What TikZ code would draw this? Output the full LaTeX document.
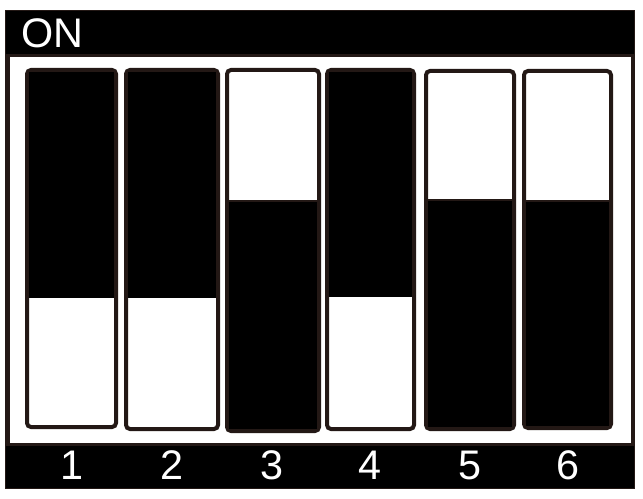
\documentclass[tikz,border=0pt]{standalone}
\usepackage{fontspec}
\setmainfont{Liberation Sans}
\definecolor{edge}{HTML}{231815}
\begin{document}
\begin{tikzpicture}[x=0.75pt,y=-0.75pt,
  lab/.style={text=white,font=\fontsize{31}{31}\selectfont,inner sep=0pt,anchor=base},
  sw/.style={draw=edge,line width=3pt,fill=white,rounded corners=3pt}]
\useasboundingbox (0,0) rectangle (643,499);
% frame
\fill[edge] (5,10) rectangle (635,489);
\fill[white] (10,57) rectangle (631,443);
\fill[black] (6,11) rectangle (634,54);
\fill[black] (6,446) rectangle (634,488);
% switches: left, right, top, bottom, split, which part white (0 = bottom white, 1 = top white)
\foreach \l/\r/\t/\b/\s/\w in {25/118/68/429/298/0,124/220/68/431/298/0,225/321/68/433/201/1,325/416/68/431/297/0,424/516/69/431/200/1,522/613/69/430/201/1}{
  \draw[sw] (\l+2,\t+2) rectangle (\r-2,\b-2);
  \ifnum\w=0
    \fill[black] (\l+4,\t+4) rectangle (\r-4,\s);
  \else
    \fill[black] (\l+4,\s) rectangle (\r-4,\b-4);
    \draw[edge,line width=1pt] (\l+4,\s) -- (\r-4,\s);
  \fi
}
\node[lab,anchor=base west] (on) at (21,48) {ON};
\node[lab] (n1) at (72,479) {1};
\node[lab] (n2) at (172,479) {2};
\node[lab] (n3) at (272,479) {3};
\node[lab] (n4) at (370,479) {4};
\node[lab] (n5) at (470,479) {5};
\node[lab] (n6) at (568,479) {6};
\end{tikzpicture}
\end{document}
